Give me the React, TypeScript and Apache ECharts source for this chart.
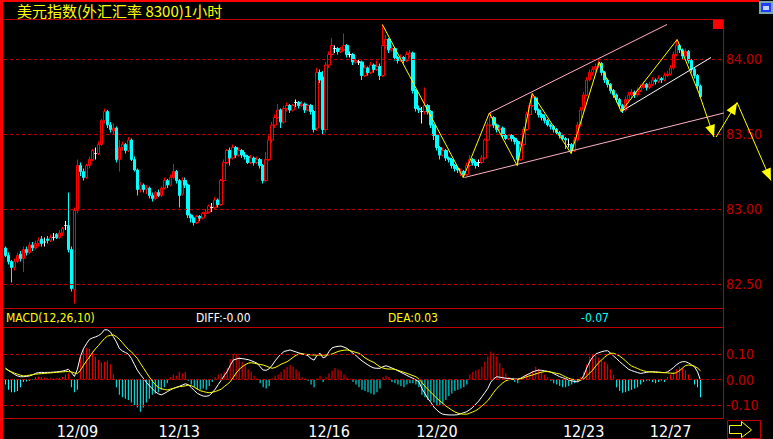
import React, { useEffect, useRef } from 'react';
import * as echarts from 'echarts';

// [open, close, low, high]
const ohlc: number[][] = [
  [82.74,82.69,82.68,82.75],[82.69,82.65,82.63,82.71],[82.65,82.61,82.51,82.66],[82.61,82.65,82.59,82.67],[82.65,82.69,82.64,82.71],
  [82.70,82.67,82.65,82.72],[82.67,82.73,82.58,82.75],[82.73,82.71,82.69,82.75],[82.71,82.76,82.70,82.78],[82.76,82.74,82.72,82.78],
  [82.74,82.77,82.73,82.79],[82.77,82.79,82.75,82.81],[82.80,82.77,82.75,82.82],[82.78,82.78,82.75,82.81],[82.80,82.79,82.77,82.82],
  [82.79,82.81,82.78,82.83],[82.81,82.81,82.79,82.84],[82.83,82.81,82.80,82.84],[82.81,82.84,82.80,82.86],[82.84,82.87,82.82,82.88],
  [82.89,82.89,82.86,82.92],[82.89,82.73,82.71,83.11],[82.73,82.47,82.45,82.75],[82.46,82.99,82.37,83.01],[82.99,83.29,82.97,83.33],
  [83.29,83.25,83.22,83.31],[83.25,83.21,83.19,83.27],[83.21,83.29,83.20,83.30],[83.29,83.33,83.27,83.35],[83.33,83.39,83.32,83.40],
  [83.37,83.37,83.33,83.41],[83.37,83.43,83.36,83.45],[83.43,83.59,83.42,83.60],[83.59,83.65,83.57,83.67],[83.65,83.56,83.54,83.66],
  [83.56,83.53,83.51,83.58],[83.52,83.54,83.50,83.57],[83.54,83.33,83.31,83.55],[83.33,83.41,83.25,83.46],[83.41,83.43,83.39,83.45],
  [83.43,83.39,83.37,83.44],[83.39,83.46,83.38,83.48],[83.46,83.33,83.32,83.47],[83.33,83.26,83.25,83.35],[83.26,83.13,83.09,83.27],
  [83.13,83.16,83.11,83.18],[83.16,83.13,83.11,83.17],[83.13,83.14,83.10,83.16],[83.14,83.09,83.07,83.15],[83.09,83.07,83.05,83.11],
  [83.07,83.11,83.06,83.12],[83.11,83.09,83.08,83.13],[83.09,83.14,83.08,83.15],[83.14,83.19,83.13,83.21],[83.19,83.16,83.14,83.20],
  [83.16,83.21,83.15,83.23],[83.21,83.25,83.20,83.30],[83.25,83.19,83.17,83.26],[83.19,83.09,83.01,83.20],[83.10,83.19,83.09,83.21],
  [83.19,83.16,83.14,83.21],[83.16,82.96,82.94,83.17],[82.96,82.94,82.91,82.97],[82.94,82.91,82.89,82.95],[82.91,82.95,82.90,82.96],
  [82.95,82.94,82.92,82.96],[82.94,82.97,82.93,82.98],[82.97,82.98,82.95,83.00],[82.98,83.02,82.97,83.03],[83.01,83.01,82.98,83.04],
  [83.01,83.06,83.00,83.08],[83.06,83.03,83.01,83.07],[83.03,83.19,83.02,83.20],[83.19,83.31,83.18,83.33],[83.31,83.39,83.30,83.40],
  [83.39,83.34,83.29,83.41],[83.34,83.41,83.33,83.43],[83.41,83.36,83.34,83.42],[83.36,83.39,83.35,83.41],[83.39,83.36,83.34,83.40],
  [83.36,83.35,83.33,83.38],[83.35,83.31,83.30,83.36],[83.31,83.34,83.30,83.36],[83.34,83.31,83.29,83.35],[83.31,83.33,83.30,83.35],
  [83.33,83.29,83.27,83.34],[83.29,83.19,83.17,83.30],[83.19,83.33,83.18,83.38],[83.33,83.46,83.32,83.49],[83.46,83.56,83.44,83.58],
  [83.56,83.61,83.54,83.63],[83.61,83.66,83.60,83.70],[83.66,83.58,83.54,83.67],[83.58,83.67,83.57,83.69],[83.67,83.69,83.65,83.71],
  [83.69,83.66,83.64,83.70],[83.66,83.69,83.65,83.70],[83.71,83.71,83.68,83.73],[83.71,83.69,83.67,83.72],[83.69,83.70,83.68,83.72],
  [83.70,83.66,83.64,83.71],[83.66,83.69,83.65,83.70],[83.69,83.65,83.63,83.70],[83.65,83.53,83.51,83.66],[83.54,83.91,83.52,83.94],
  [83.91,83.86,83.84,83.93],[83.88,83.53,83.50,83.92],[83.53,83.96,83.51,83.98],[83.96,84.03,83.94,84.05],[84.03,84.09,84.01,84.14],
  [84.07,84.07,84.04,84.09],[84.07,84.05,84.03,84.08],[84.05,84.06,84.04,84.08],[84.06,84.09,84.05,84.17],[84.09,84.03,84.01,84.10],
  [84.03,84.03,84.01,84.05],[84.03,83.98,83.96,84.04],[83.98,83.99,83.97,84.01],[83.98,83.98,83.96,84.00],[83.98,83.89,83.86,83.99],
  [83.89,83.94,83.88,83.96],[83.94,83.91,83.89,83.95],[83.91,83.96,83.90,83.98],[83.96,83.93,83.91,83.97],[83.93,83.95,83.92,83.99],
  [83.95,83.89,83.86,83.97],[83.89,84.09,83.88,84.23],[84.09,84.13,84.07,84.16],[84.13,84.06,84.04,84.14],[84.06,84.07,84.05,84.09],
  [84.07,84.01,83.99,84.08],[84.01,83.99,83.97,84.02],[83.99,84.01,83.98,84.03],[84.01,83.99,83.97,84.02],[83.99,84.03,83.98,84.05],
  [84.02,84.04,84.01,84.06],[84.04,83.79,83.77,84.05],[83.79,83.67,83.65,83.80],[83.67,83.66,83.64,83.69],[83.65,83.65,83.57,83.68],
  [83.65,83.69,83.63,83.81],[83.69,83.65,83.63,83.70],[83.65,83.56,83.54,83.66],[83.56,83.49,83.46,83.57],[83.49,83.41,83.39,83.50],
  [83.41,83.36,83.33,83.42],[83.36,83.39,83.35,83.41],[83.39,83.34,83.32,83.40],[83.34,83.33,83.31,83.35],[83.33,83.29,83.27,83.34],
  [83.29,83.27,83.25,83.30],[83.27,83.26,83.24,83.28],[83.24,83.25,83.22,83.27],[83.25,83.23,83.21,83.26],[83.23,83.29,83.22,83.31],
  [83.29,83.33,83.28,83.36],[83.33,83.31,83.29,83.34],[83.31,83.29,83.27,83.32],[83.31,83.31,83.28,83.33],[83.31,83.34,83.30,83.36],
  [83.34,83.46,83.33,83.47],[83.46,83.56,83.45,83.58],[83.56,83.61,83.55,83.64],[83.61,83.56,83.54,83.62],[83.56,83.53,83.51,83.57],
  [83.53,83.54,83.52,83.56],[83.54,83.49,83.47,83.55],[83.49,83.47,83.46,83.50],[83.47,83.49,83.46,83.50],[83.49,83.47,83.45,83.50],
  [83.47,83.45,83.43,83.48],[83.45,83.33,83.29,83.46],[83.33,83.43,83.32,83.45],[83.43,83.53,83.42,83.55],[83.53,83.63,83.52,83.65],
  [83.63,83.69,83.62,83.71],[83.69,83.74,83.68,83.77],[83.74,83.66,83.64,83.75],[83.66,83.63,83.61,83.67],[83.63,83.61,83.59,83.64],
  [83.61,83.59,83.57,83.63],[83.59,83.56,83.55,83.60],[83.56,83.55,83.53,83.57],[83.55,83.53,83.51,83.56],[83.53,83.51,83.50,83.54],
  [83.51,83.49,83.47,83.52],[83.49,83.47,83.46,83.50],[83.47,83.46,83.40,83.48],[83.43,83.43,83.41,83.47],[83.43,83.39,83.37,83.44],
  [83.39,83.46,83.38,83.48],[83.46,83.56,83.45,83.58],[83.56,83.66,83.55,83.68],[83.66,83.76,83.65,83.78],[83.76,83.86,83.75,83.88],
  [83.86,83.91,83.85,83.93],[83.91,83.93,83.89,83.95],[83.93,83.95,83.91,83.97],[83.95,83.97,83.94,83.99],[83.97,83.91,83.89,83.98],
  [83.91,83.86,83.84,83.92],[83.86,83.83,83.81,83.87],[83.83,83.79,83.77,83.84],[83.79,83.76,83.74,83.80],[83.76,83.73,83.71,83.77],
  [83.73,83.69,83.67,83.74],[83.69,83.66,83.64,83.70],[83.66,83.73,83.65,83.75],[83.73,83.76,83.72,83.78],[83.76,83.78,83.74,83.80],
  [83.78,83.76,83.74,83.79],[83.76,83.79,83.75,83.81],[83.79,83.81,83.78,83.83],[83.81,83.83,83.80,83.85],[83.83,83.81,83.79,83.84],
  [83.81,83.83,83.80,83.85],[83.83,83.86,83.82,83.88],[83.86,83.85,83.83,83.87],[83.85,83.87,83.84,83.89],[83.87,83.86,83.84,83.88],
  [83.86,83.89,83.85,83.91],[83.89,83.90,83.88,83.92],[83.90,83.94,83.89,83.96],[83.94,84.03,83.93,84.05],[84.03,84.09,84.02,84.13],
  [84.09,84.06,84.04,84.10],[84.06,84.02,84.00,84.07],[84.02,84.05,84.01,84.07],[84.05,83.99,83.97,84.06],[83.99,83.93,83.91,84.00],
  [83.93,83.89,83.87,83.94],[83.89,83.82,83.80,83.90],[83.82,83.75,83.74,83.83],
];

const diff: number[] = [
  0.045,0.035,0.028,0.02,0.014,0.011,0.011,0.012,0.014,0.018,
  0.024,0.027,0.028,0.027,0.028,0.028,0.029,0.03,0.031,0.033,
  0.036,0.04,0.028,0.012,0.04,0.09,0.12,0.14,0.157,0.163,
  0.167,0.172,0.18,0.195,0.195,0.187,0.168,0.148,0.122,0.112,
  0.106,0.1,0.083,0.06,0.037,0.02,0.005,-0.01,-0.024,-0.036,
  -0.048,-0.056,-0.06,-0.055,-0.048,-0.041,-0.035,-0.031,-0.027,-0.022,
  -0.017,-0.02,-0.031,-0.043,-0.054,-0.06,-0.065,-0.066,-0.063,-0.052,
  -0.038,-0.02,-0.003,0.015,0.031,0.055,0.076,0.08,0.083,0.082,
  0.08,0.078,0.074,0.069,0.064,0.05,0.037,0.036,0.042,0.056,
  0.073,0.088,0.1,0.11,0.113,0.116,0.112,0.108,0.104,0.101,
  0.098,0.093,0.082,0.076,0.095,0.103,0.085,0.09,0.11,0.124,
  0.128,0.13,0.131,0.127,0.122,0.113,0.103,0.094,0.083,0.073,
  0.065,0.057,0.05,0.045,0.044,0.044,0.05,0.054,0.05,0.045,
  0.04,0.034,0.028,0.022,0.016,0.01,0.005,-0.002,-0.009,-0.035,
  -0.055,-0.075,-0.09,-0.108,-0.12,-0.13,-0.136,-0.138,-0.139,-0.139,
  -0.139,-0.138,-0.134,-0.13,-0.126,-0.118,-0.109,-0.096,-0.084,-0.068,
  -0.052,-0.035,-0.01,0.003,0.011,0.009,0.007,0.005,0.004,0.003,
  0.002,0.001,0.005,0.012,0.018,0.024,0.03,0.034,0.037,0.036,
  0.034,0.032,0.029,0.023,0.017,0.011,0.007,0.003,-0.001,-0.005,
  -0.008,-0.009,-0.002,0.015,0.045,0.07,0.088,0.1,0.105,0.109,
  0.112,0.113,0.103,0.092,0.082,0.07,0.06,0.05,0.04,0.035,
  0.031,0.027,0.024,0.026,0.028,0.03,0.031,0.03,0.029,0.028,
  0.027,0.03,0.038,0.047,0.058,0.066,0.07,0.07,0.065,0.058,
  0.05,0.03,-0.003,
];

const dea: number[] = [
  0.042,0.036,0.03,0.025,0.021,0.017,0.014,0.015,0.017,0.019,
  0.021,0.022,0.023,0.024,0.025,0.026,0.027,0.028,0.029,0.03,
  0.031,0.031,0.03,0.026,0.024,0.035,0.055,0.072,0.088,0.105,
  0.12,0.133,0.147,0.16,0.17,0.173,0.175,0.168,0.158,0.145,
  0.131,0.118,0.109,0.096,0.083,0.064,0.046,0.028,0.01,-0.006,
  -0.02,-0.031,-0.036,-0.039,-0.041,-0.038,-0.035,-0.031,-0.028,-0.027,
  -0.025,-0.022,-0.024,-0.03,-0.037,-0.044,-0.047,-0.05,-0.052,-0.05,
  -0.047,-0.043,-0.038,-0.028,-0.019,-0.009,0.008,0.025,0.04,0.05,
  0.058,0.064,0.066,0.064,0.061,0.059,0.057,0.053,0.048,0.044,
  0.047,0.053,0.06,0.065,0.07,0.078,0.087,0.095,0.1,0.1,
  0.099,0.098,0.097,0.096,0.096,0.096,0.096,0.096,0.097,0.1,
  0.105,0.11,0.113,0.115,0.116,0.113,0.11,0.106,0.103,0.095,
  0.085,0.078,0.072,0.067,0.058,0.05,0.045,0.042,0.041,0.041,
  0.04,0.036,0.032,0.028,0.024,0.02,0.015,0.011,0.002,-0.012,
  -0.026,-0.039,-0.05,-0.062,-0.074,-0.084,-0.094,-0.104,-0.112,-0.12,
  -0.127,-0.132,-0.135,-0.136,-0.136,-0.132,-0.127,-0.122,-0.114,-0.104,
  -0.094,-0.083,-0.067,-0.05,-0.035,-0.024,-0.013,-0.005,-0.001,0.0,
  0.0,0.001,0.003,0.007,0.011,0.015,0.018,0.022,0.026,0.029,
  0.031,0.031,0.029,0.027,0.024,0.022,0.016,0.01,0.005,0.001,
  0.0,-0.001,-0.002,0.002,0.014,0.025,0.037,0.052,0.066,0.077,
  0.088,0.097,0.103,0.103,0.098,0.092,0.083,0.073,0.062,0.053,
  0.048,0.043,0.038,0.034,0.031,0.03,0.029,0.028,0.028,0.027,
  0.027,0.026,0.025,0.024,0.027,0.035,0.045,0.055,0.057,0.055,
  0.052,0.045,0.034,
];

const macdHist: number[] = [
  -0.02,-0.04,-0.05,-0.05,-0.045,-0.03,-0.01,-0.008,-0.005,-0.002,
  0.01,0.012,0.01,0.008,0.006,0.005,0.004,0.005,0.006,0.01,
  0.02,0.025,-0.03,-0.05,-0.04,0.09,0.12,0.125,0.12,0.11,
  0.09,0.078,0.066,0.07,0.075,0.06,0.02,-0.03,-0.06,-0.07,
  -0.075,-0.08,-0.09,-0.1,-0.11,-0.126,-0.11,-0.09,-0.075,-0.06,
  -0.055,-0.05,-0.04,-0.03,-0.015,0.01,0.02,0.015,0.03,0.025,
  0.03,-0.005,-0.02,-0.03,-0.04,-0.04,-0.035,-0.04,-0.025,-0.01,
  0.01,0.02,0.025,0.03,0.045,0.08,0.1,0.1,0.09,0.07,
  0.06,0.04,0.03,0.015,0.005,-0.015,-0.03,-0.035,-0.025,0.005,
  0.015,0.02,0.03,0.04,0.05,0.057,0.05,0.04,0.03,0.01,
  0.005,-0.005,-0.02,-0.03,0.005,0.015,-0.01,0.01,0.025,0.035,
  0.045,0.04,0.035,0.02,0.01,0.005,-0.01,-0.02,-0.03,-0.04,
  -0.045,-0.05,-0.055,-0.06,-0.05,-0.035,0.01,0.015,0.01,-0.01,
  -0.015,-0.02,-0.025,-0.03,-0.02,-0.015,-0.015,-0.02,-0.03,-0.06,
  -0.07,-0.08,-0.085,-0.09,-0.1,-0.1,-0.095,-0.08,-0.065,-0.055,
  -0.045,-0.04,-0.035,-0.03,-0.02,0.02,0.03,0.035,0.04,0.05,
  0.07,0.09,0.11,0.105,0.09,0.065,0.045,0.025,0.01,0.005,
  -0.01,-0.015,0.005,0.01,0.02,0.025,0.035,0.05,0.04,0.03,
  0.02,0.01,-0.005,-0.015,-0.02,-0.025,-0.03,-0.03,-0.025,-0.02,
  -0.015,-0.01,0.01,0.03,0.06,0.09,0.1,0.095,0.085,0.075,
  0.07,0.06,0.04,0.02,-0.03,-0.045,-0.052,-0.05,-0.045,-0.04,
  -0.035,-0.03,-0.02,-0.01,-0.005,-0.005,-0.01,-0.015,-0.01,-0.005,
  -0.01,0.01,0.02,0.03,0.04,0.05,0.045,0.035,0.02,0.005,
  -0.02,-0.03,-0.07,
];

const slotCount = 240;
const tickLabels = ['12/09', '12/13', '12/16', '12/20', '12/23', '12/27'];
const tickIndex = [24, 58, 108, 144, 193, 222];
const priceLevels = [84.0, 83.5, 83.0, 82.5];
const macdLevels = [0.1, 0, -0.1];

// drawn annotations, as [candle index, price]
const zigzag = [[125.8, 84.23], [152.8, 83.21], [161.5, 83.64], [170.8, 83.29], [175.8, 83.77], [188.8, 83.37], [198.2, 83.98], [205.5, 83.65], [224.2, 84.13], [231.5, 83.77], [236.5, 83.48]];
const projection = [[237.2, 83.48], [244.2, 83.71], [255.5, 83.19]];
const channelUpper = [[161.5, 83.64], [220.8, 84.23]];
const channelLower = [[153.2, 83.21], [239.8, 83.64]];
const whiteTrend = [[205.5, 83.65], [235.5, 84.01]];

const NARROW = "'Liberation Sans Narrow', 'Arial Narrow', 'DejaVu Sans Condensed', 'Liberation Sans', sans-serif";
const GRID_RED = '#c00000';

export default function App() {
  const ref = useRef<HTMLDivElement>(null);
  useEffect(() => {
    const chart = echarts.init(ref.current as HTMLDivElement, null, { renderer: 'svg' });
    const categories = ohlc.map((_, i) => i).concat([233, 234, 235, 236, 237, 238, 239].slice(0, slotCount - ohlc.length));
    const option: any = {
      animation: false,
      backgroundColor: '#000000',
      grid: [
        { left: 4, top: 20, width: 719, height: 288 },
        { left: 4, top: 327, width: 719, height: 91 },
      ],
      xAxis: [
        { type: 'category', gridIndex: 0, data: categories, boundaryGap: true, axisLine: { show: false }, axisTick: { show: false }, axisLabel: { show: false }, splitLine: { show: false } },
        {
          type: 'category', gridIndex: 1, data: categories, boundaryGap: true,
          axisLine: { show: false }, axisTick: { show: false }, splitLine: { show: false },
          axisLabel: {
            show: true,
            interval: (i: number) => tickIndex.includes(i),
            formatter: (_v: any, i: number) => { const k = tickIndex.indexOf(i); return k >= 0 ? tickLabels[k] : ''; },
            color: '#ffffff', fontSize: 16, fontFamily: NARROW, margin: 5,
          },
        },
      ],
      yAxis: [
        { type: 'value', gridIndex: 0, min: 82.34, max: 84.26, axisLine: { show: false }, axisTick: { show: false }, axisLabel: { show: false }, splitLine: { show: false } },
        { type: 'value', gridIndex: 1, min: -0.151, max: 0.206, axisLine: { show: false }, axisTick: { show: false }, axisLabel: { show: false }, splitLine: { show: false } },
      ],
      series: [
        {
          type: 'candlestick', xAxisIndex: 0, yAxisIndex: 0, data: ohlc, barWidth: 3,
          itemStyle: { color: '#000000', color0: '#00ffff', borderColor: '#ff0000', borderColor0: '#00ffff', borderColorDoji: '#ffffff', borderWidth: 1 },
          markLine: {
            silent: true, symbol: ['none', 'none'], animation: false,
            lineStyle: { color: GRID_RED, type: [3, 3], width: 1 },
            label: { show: true, position: 'end', distance: 3, formatter: (p: any) => Number(p.value).toFixed(2), color: GRID_RED, fontSize: 14, fontFamily: NARROW },
            data: priceLevels.map((v) => ({ yAxis: v })),
          },
        },
        {
          type: 'bar', xAxisIndex: 1, yAxisIndex: 1, data: macdHist, barWidth: 1,
          itemStyle: { color: (p: any) => (p.value >= 0 ? '#ff0000' : '#00ffff') },
          markLine: {
            silent: true, symbol: ['none', 'none'], animation: false,
            lineStyle: { color: GRID_RED, type: [3, 3], width: 1 },
            label: { show: true, position: 'end', distance: 3, formatter: (p: any) => Number(p.value).toFixed(2), color: GRID_RED, fontSize: 14, fontFamily: NARROW },
            data: macdLevels.map((v) => ({ yAxis: v })),
          },
        },
        { type: 'line', xAxisIndex: 1, yAxisIndex: 1, data: diff, showSymbol: false, symbol: 'none', lineStyle: { color: '#ffffff', width: 1 } },
        { type: 'line', xAxisIndex: 1, yAxisIndex: 1, data: dea, showSymbol: false, symbol: 'none', lineStyle: { color: '#ffff00', width: 1 } },
      ],
    };
    chart.setOption(option);

    const a = chart.convertToPixel({ xAxisIndex: 0, yAxisIndex: 0 }, [0, 84]) as number[];
    const b = chart.convertToPixel({ xAxisIndex: 0, yAxisIndex: 0 }, [200, 83]) as number[];
    const toPx = (pt: number[]) => [a[0] + (pt[0] * (b[0] - a[0])) / 200, a[1] + (84 - pt[1]) * (b[1] - a[1])];
    const arrowHead = (tip: number[], from: number[], color: string) => {
      const dx = tip[0] - from[0];
      const dy = tip[1] - from[1];
      const len = Math.sqrt(dx * dx + dy * dy) || 1;
      const ux = dx / len, uy = dy / len;
      const L = 12, W = 5;
      const bx = tip[0] - ux * L, by = tip[1] - uy * L;
      return { type: 'polygon', z: 60, silent: true, shape: { points: [tip, [bx - uy * W, by + ux * W], [bx + uy * W, by - ux * W]] }, style: { fill: color } };
    };
    const pl = (pts: number[][], color: string) => ({ type: 'polyline', z: 55, silent: true, shape: { points: pts.map(toPx) }, style: { stroke: color, lineWidth: 1, fill: null } });
    const hl = (x1: number, y1: number, x2: number, y2: number, color: string, w = 1) => ({ type: 'line', z: 40, silent: true, shape: { x1, y1, x2, y2 }, style: { stroke: color, lineWidth: w } });
    const txt = (x: number, y: number, text: string, color: string, size: number, family: string) => ({ type: 'text', z: 70, silent: true, x, y, style: { text, fill: color, fontSize: size, fontFamily: family, lineHeight: size, verticalAlign: 'middle', align: 'left' } });

    const zz = zigzag.map(toPx);
    const pj = projection.map(toPx);
    const last = ohlc.length - 1;
    const elements: any[] = [
      // frame
      { type: 'rect', z: 45, silent: true, shape: { x: 0, y: 0, width: 759, height: 2 }, style: { fill: '#ff0000' } },
      { type: 'rect', z: 45, silent: true, shape: { x: 0, y: 0, width: 3, height: 439 }, style: { fill: '#ff0000' } },
      hl(3, 19.5, 723, 19.5, GRID_RED),
      hl(723.5, 19, 723.5, 419, GRID_RED),
      hl(3, 308.5, 723, 308.5, GRID_RED),
      hl(3, 327.5, 723, 327.5, GRID_RED),
      hl(3, 418.5, 723, 418.5, GRID_RED),
      { type: 'rect', z: 45, silent: true, shape: { x: 713, y: 20, width: 10, height: 9 }, style: { fill: '#ff0000' } },
      // top-right icon
      { type: 'rect', z: 45, silent: true, shape: { x: 759, y: 1, width: 14, height: 13 }, style: { fill: '#7aa6b0' } },
      { type: 'rect', z: 46, silent: true, shape: { x: 761, y: 3, width: 10, height: 9 }, style: { fill: '#1e3cff' } },
      { type: 'rect', z: 47, silent: true, shape: { x: 763, y: 6, width: 6, height: 4 }, style: { fill: '#c8d0ff' } },
      // bottom-right arrow button
      { type: 'rect', z: 45, silent: true, shape: { x: 727.5, y: 420.5, width: 33, height: 18 }, style: { fill: '#000000', stroke: GRID_RED, lineWidth: 1 } },
      hl(753.5, 421, 753.5, 439, GRID_RED),
      { type: 'polygon', z: 46, silent: true, shape: { points: [[729.5, 425.5], [741.5, 425.5], [741.5, 421.5], [751.5, 430], [741.5, 437.5], [741.5, 433.5], [729.5, 433.5]] }, style: { fill: '#000000', stroke: '#ffff00', lineWidth: 1 } },
      // texts
      txt(17, 10.5, '美元指数(外汇汇率 8300)1小时', '#ffff00', 15, "'Noto Sans CJK SC', sans-serif"),
      txt(6, 318, 'MACD(12,26,10)', '#ffff00', 12, NARROW),
      txt(196, 318, `DIFF:${diff[last].toFixed(2)}`, '#ffffff', 12, NARROW),
      txt(388, 318, `DEA:${dea[last].toFixed(2)}`, '#ffff00', 12, NARROW),
      txt(581, 318, macdHist[last].toFixed(2), '#00ffff', 12, NARROW),
      // annotations
      pl(channelUpper, '#ffb0c8'),
      pl(channelLower, '#ffb0c8'),
      pl(whiteTrend, '#ffffff'),
      pl(zigzag, '#ffff00'),
      pl(projection, '#ffff00'),
      arrowHead(zz[zz.length - 1], zz[zz.length - 2], '#ffff00'),
      arrowHead(pj[1], pj[0], '#ffff00'),
      arrowHead(pj[2], pj[1], '#ffff00'),
    ];
    chart.setOption({ graphic: elements });
    return () => chart.dispose();
  }, []);
  return <div ref={ref} style={{ position: 'fixed', left: 0, top: 0, width: 773, height: 439, background: '#000000' }} />;
}
